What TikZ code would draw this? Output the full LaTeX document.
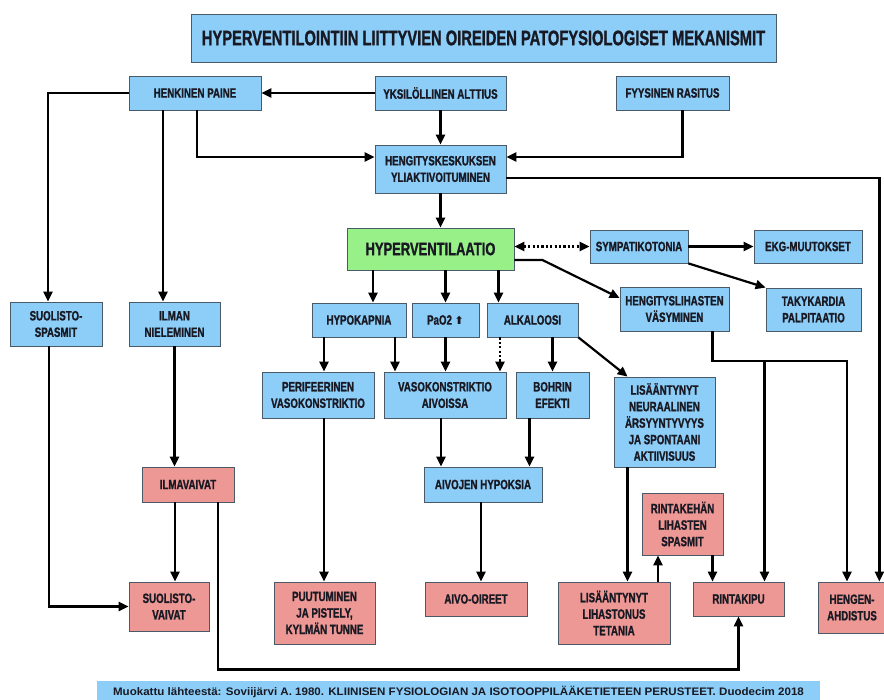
\documentclass[tikz,border=0pt]{standalone}
\usepackage{fontspec}
\usepackage{tikz}
\usetikzlibrary{arrows.meta}
\newfontfamily\boxfont[FakeStretch=0.72,FakeBold=1.2]{Liberation Sans}
\newfontfamily\headfont[FakeStretch=0.70,FakeBold=1.2]{Liberation Sans}
\newfontfamily\notefont[FakeStretch=1.06]{Liberation Sans}
\newfontfamily\symbfont{DejaVu Sans}
\definecolor{boxblue}{RGB}{140,206,248}
\definecolor{boxgreen}{RGB}{152,240,136}
\definecolor{boxred}{RGB}{238,152,150}
\definecolor{edgegray}{RGB}{75,90,105}
\definecolor{textdark}{RGB}{25,25,35}
\tikzstyle{basebox} = [draw=edgegray, line width=0.8pt, rectangle, inner sep=2pt,
align=center, text=textdark, font=\boxfont\bfseries\fontsize{13.5}{16.5}\selectfont]
\tikzstyle{bluebox} = [basebox, fill=boxblue]
\tikzstyle{redbox} = [basebox, fill=boxred]
\tikzstyle{arr} = [line width=2.2pt, -{Triangle[length=10pt,width=9pt]}]
\tikzstyle{dotarr} = [line width=2.2pt, dash pattern=on 2.2pt off 2.2pt,
{Triangle[length=10pt,width=9pt]}-{Triangle[length=10pt,width=9pt]}]

\begin{document}
\begin{tikzpicture}[x=1pt,y=-1pt]
		\fill[white] (0,0) rectangle (884,700);
		\useasboundingbox (0,0) rectangle (884,700);
		% otsikko
		\node [bluebox, minimum width=585pt, minimum height=48pt,
		font=\headfont\bfseries\fontsize{21}{22}\selectfont] (title) at (483.5,38)
		{HYPERVENTILOINTIIN LIITTYVIEN OIREIDEN PATOFYSIOLOGISET MEKANISMIT};
		% ylarivi
		\node [bluebox, minimum width=132pt, minimum height=34pt] (henk) at (195,93) {HENKINEN PAINE};
		\node [bluebox, minimum width=131pt, minimum height=34pt] (yksi) at (440.5,93) {YKSIL\"OLLINEN ALTTIUS};
		\node [bluebox, minimum width=113pt, minimum height=34pt] (fyys) at (672.5,93) {FYYSINEN RASITUS};
		\node [bluebox, minimum width=131pt, minimum height=48pt] (hengk) at (440.5,169) {HENGITYSKESKUKSEN\\YLIAKTIVOITUMINEN};
		\node [basebox, fill=boxgreen, minimum width=167pt, minimum height=42pt,
		font=\boxfont\bfseries\fontsize{18}{20}\selectfont] (hyper) at (430.5,249) {HYPERVENTILAATIO};
		\node [bluebox, minimum width=98pt, minimum height=33pt] (symp) at (639,246.5) {SYMPATIKOTONIA};
		\node [bluebox, minimum width=108pt, minimum height=33pt] (ekg) at (808,246.5) {EKG-MUUTOKSET};
		\node [bluebox, minimum width=95pt, minimum height=43pt] (taky) at (813.5,309.5) {TAKYKARDIA\\PALPITAATIO};
		\node [bluebox, minimum width=109pt, minimum height=44pt] (henglih) at (674.5,309) {HENGITYSLIHASTEN\\V\"ASYMINEN};
		% keskirivi
		\node [bluebox, minimum width=92pt, minimum height=44pt] (suolsp) at (56,324) {SUOLISTO-\\SPASMIT};
		\node [bluebox, minimum width=91pt, minimum height=44pt] (ilman) at (174.5,324) {ILMAN\\NIELEMINEN};
		\node [bluebox, minimum width=94pt, minimum height=34pt] (hypo) at (359,320) {HYPOKAPNIA};
		\node [bluebox, minimum width=67pt, minimum height=34pt] (pao2) at (445.5,320) {PaO2 {\symbfont\fontsize{11}{11}\selectfont ⬆}};
		\node [bluebox, minimum width=91pt, minimum height=34pt] (alka) at (532.5,320) {ALKALOOSI};
		\node [bluebox, minimum width=112pt, minimum height=46pt] (perif) at (318,395) {PERIFEERINEN\\VASOKONSTRIKTIO};
		\node [bluebox, minimum width=122pt, minimum height=46pt] (vaso) at (445,395) {VASOKONSTRIKTIO\\AIVOISSA};
		\node [bluebox, minimum width=73pt, minimum height=46pt] (bohr) at (552.5,395) {BOHRIN\\EFEKTI};
		\node [bluebox, minimum width=101pt, minimum height=90pt] (neur) at (664.5,422) {LIS\"A\"ANTYNYT\\NEURAALINEN\\\"ARSYYNTYVYYS\\JA SPONTAANI\\AKTIIVISUUS};
		\node [redbox, minimum width=92pt, minimum height=35pt] (ilmav) at (188,484.5) {ILMAVAIVAT};
		\node [bluebox, minimum width=118pt, minimum height=35pt] (aivhyp) at (483,484.5) {AIVOJEN HYPOKSIA};
		\node [redbox, minimum width=81pt, minimum height=62pt] (rintak) at (682.5,524) {RINTAKEH\"AN\\LIHASTEN\\SPASMIT};
		% oireet
		\node [redbox, minimum width=80pt, minimum height=49pt] (suolv) at (169,606.5) {SUOLISTO-\\VAIVAT};
		\node [redbox, minimum width=101pt, minimum height=62pt] (puut) at (324.5,613) {PUUTUMINEN\\JA PISTELY,\\KYLM\"AN TUNNE};
		\node [redbox, minimum width=102pt, minimum height=34pt] (aivo) at (476,599) {AIVO-OIREET};
		\node [redbox, minimum width=112pt, minimum height=62pt] (lihas) at (614,613) {LIS\"A\"ANTYNYT\\LIHASTONUS\\TETANIA};
		\node [redbox, minimum width=91pt, minimum height=34pt] (rintakipu) at (738.5,599) {RINTAKIPU};
		\node [redbox, minimum width=68pt, minimum height=51pt] (hengen) at (852,607.5) {HENGEN-\\AHDISTUS};
		% lahde
		\node [fill=boxblue, minimum width=723pt, minimum height=21pt, inner sep=0pt, text=textdark,
		font=\notefont\bfseries\fontsize{10.9}{12}\selectfont] (source) at (458.5,691.5)
		{Muokattu l\"ahteest\"a: Soviij\"arvi A. 1980. KLIINISEN FYSIOLOGIAN JA ISOTOOPPIL\"A\"AKETIETEEN PERUSTEET. Duodecim 2018};

		% nuolet
		\draw [arr] (yksi.west) -- (henk.east);
		\draw [arr] (yksi.south) -- (hengk.north);
		\draw [arr] ([xshift=2pt]henk.south) |- ([yshift=12pt]hengk.west);
		\draw [arr] ([xshift=10pt]fyys.south) |- ([yshift=12pt]hengk.east);
		\draw [arr] (henk.west) -| ([xshift=-8pt]suolsp.north);
		\draw [arr] ([xshift=-32pt]henk.south) -- ([xshift=-32pt]henk.south |- ilman.north);
		\draw [arr] ([yshift=-9pt]hengk.east) -| ([xshift=-7pt]hengen.north east);
		\draw [arr] (hengk.south) -- (hengk.south |- hyper.north);
		\draw [dotarr] (hyper.east |- symp.west) -- (symp.west);
		\draw [arr] (symp.east) -- (ekg.west);
		\draw [arr] (symp.south east) -- (taky.north west);
		\draw [arr] ([yshift=-11pt]hyper.east) -- ++(28,0) -- ([yshift=11pt]henglih.west);
		\draw [arr] ([xshift=14pt]hypo.north |- hyper.south) -- ([xshift=14pt]hypo.north);
		\draw [arr] (pao2.north |- hyper.south) -- (pao2.north);
		\draw [arr] ([xshift=-34pt]alka.north |- hyper.south) -- ([xshift=-34pt]alka.north);
		\draw [arr] ([xshift=6pt]perif.north |- hypo.south) -- ([xshift=6pt]perif.north);
		\draw [arr] ([xshift=-50pt]vaso.north |- hypo.south) -- ([xshift=-50pt]vaso.north);
		\draw [arr] (pao2.south) -- (pao2.south |- vaso.north);
		\draw [line width=2.2pt, dash pattern=on 2.2pt off 2.2pt, -{Triangle[length=10pt,width=9pt]}]
		([xshift=55pt]vaso.north |- alka.south) -- ([xshift=55pt]vaso.north);
		\draw [arr] (bohr.north |- alka.south) -- (bohr.north);
		\draw [arr] (alka.south east) -- ([xshift=14pt]neur.north west);
		\draw [arr] (ilman.south) -- (ilman.south |- ilmav.north);
		\draw [arr] ([xshift=-7pt]suolsp.south) |- (suolv.west);
		\draw [arr] ([xshift=-13pt]ilmav.south) -- ([xshift=-13pt]ilmav.south |- suolv.north);
		\draw [arr] ([xshift=30pt]ilmav.south) -- ++(0,167) -| (rintakipu.south);
		\draw [arr] ([xshift=6pt]perif.south) -- ([xshift=6pt]perif.south |- puut.north);
		\draw [arr] ([xshift=-4pt]vaso.south) -- ([xshift=-4pt]vaso.south |- aivhyp.north);
		\draw [arr] ([xshift=-23pt]bohr.south) -- ([xshift=-23pt]bohr.south |- aivhyp.north);
		\draw [arr] ([xshift=-2pt]aivhyp.south) -- ([xshift=-2pt]aivhyp.south |- aivo.north);
		\draw [arr] ([xshift=-37pt]neur.south) -- ([xshift=-37pt]neur.south |- lihas.north);
		\draw [arr] ([xshift=44pt]lihas.north) -- ([xshift=44pt]lihas.north |- rintak.south);
		\draw [arr] ([xshift=30pt]rintak.south) -- ([xshift=30pt]rintak.south |- rintakipu.north);
		\draw [arr] ([xshift=38pt]henglih.south) -- ++(0,30) coordinate (bend) -| ([xshift=-5pt]hengen.north);
		\draw [arr] ([xshift=26pt]rintakipu.north |- bend) -- ([xshift=26pt]rintakipu.north);
\end{tikzpicture}
\end{document}
